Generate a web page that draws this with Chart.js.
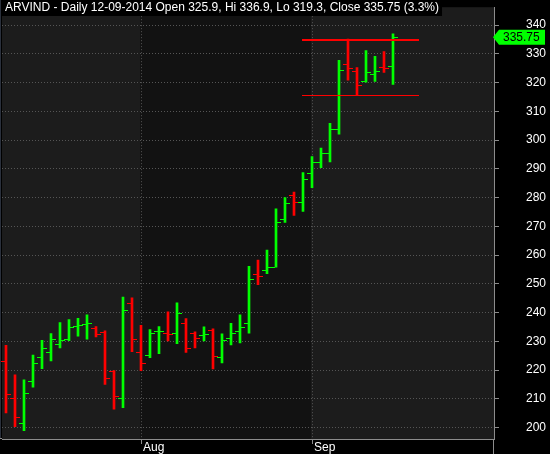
<!DOCTYPE html>
<html>
<head>
<meta charset="utf-8">
<script src="https://cdn.jsdelivr.net/npm/chart.js@4.4.1/dist/chart.umd.min.js"></script>
<style>
  html, body { margin: 0; padding: 0; background: #000; }
</style>
</head>
<body>
<canvas id="arvindChart" width="550" height="454"></canvas>
<script>
// ARVIND daily bars, 10 Jul - 12 Sep 2014
const dates = [
  '2014-07-10', '2014-07-11', '2014-07-14', '2014-07-15', '2014-07-16', '2014-07-17', '2014-07-18',
  '2014-07-21', '2014-07-22', '2014-07-23', '2014-07-24', '2014-07-25', '2014-07-28', '2014-07-30',
  '2014-07-31',
  '2014-08-01', '2014-08-04', '2014-08-05', '2014-08-06', '2014-08-07', '2014-08-08', '2014-08-11',
  '2014-08-12', '2014-08-13', '2014-08-14', '2014-08-18', '2014-08-19', '2014-08-20', '2014-08-21',
  '2014-08-22', '2014-08-25', '2014-08-26', '2014-08-27', '2014-08-28',
  '2014-09-01', '2014-09-02', '2014-09-03', '2014-09-04', '2014-09-05', '2014-09-08', '2014-09-09',
  '2014-09-10', '2014-09-11', '2014-09-12'
];
const opens = [
  223.1, 210.1, 201.7, 216.1, 224.4, 226.2, 229.2, 230.9, 235.4, 236.0, 234.7, 233.2, 219.7, 210.1, 243.2,
  226.1, 225.1, 233.5, 233.0, 233.0, 236.4, 233.0, 232.3, 234.0, 224.4, 231.2, 233.6, 236.4, 253.4, 254.8,
  255.8, 272.6, 280.8, 278.4,
  288.6, 292.4, 295.6, 304.0, 326.6, 324.0, 320.4, 322.8, 325.3, 325.9
];
const highs = [
  228.6, 218.3, 216.6, 225.2, 230.3, 232.7, 236.5, 237.5, 238.0, 239.2, 235.1, 233.6, 219.8, 245.4, 245.1,
  235.5, 234.1, 235.1, 240.2, 243.4, 237.9, 233.3, 235.0, 234.3, 232.6, 236.2, 239.2, 256.1, 258.2, 261.7,
  276.1, 280.0, 281.9, 288.7,
  294.2, 297.2, 305.8, 327.7, 335.1, 325.2, 331.1, 329.1, 330.8, 336.9
];
const lows = [
  205.1, 200.3, 198.9, 214.0, 220.5, 223.2, 227.7, 230.2, 231.8, 230.7, 231.5, 215.0, 206.4, 206.9, 226.4,
  219.8, 224.3, 225.7, 230.1, 229.2, 226.1, 227.7, 230.1, 220.4, 222.5, 228.7, 229.4, 232.8, 249.7, 253.5,
  255.8, 271.3, 273.8, 275.2,
  283.4, 290.4, 292.4, 302.0, 320.8, 315.6, 320.1, 320.4, 323.5, 319.3
];
const closes = [
  211.7, 203.5, 212.0, 222.3, 227.8, 230.9, 230.5, 235.0, 235.8, 236.4, 232.6, 217.2, 211.0, 240.8, 230.9,
  222.3, 233.0, 233.7, 232.6, 239.8, 227.8, 231.2, 232.6, 224.7, 230.5, 233.0, 235.0, 251.7, 252.7, 255.8,
  271.5, 278.0, 278.4, 286.6,
  292.4, 295.6, 304.0, 324.2, 325.2, 319.1, 323.5, 324.0, 325.1, 335.75
];

// month boundaries (bar index) and their axis labels
const monthStarts = [15, 34];
const monthLabels = ['Aug', 'Sep'];

// horizontal levels drawn over the last bars
const levelValues = [335.1, 315.6];
const levelWidths = [2, 1];
const levelStart = 32.9;
const levelEnd = 45.9;

const UP = '#00ff00';
const DOWN = '#ff0000';
const barColors = closes.map((c, i) => (c >= opens[i] ? UP : DOWN));
const last = closes.length - 1;
const pct = ((closes[last] - closes[last - 1]) / closes[last - 1] * 100).toFixed(1);
const titleText = 'ARVIND - Daily 12-09-2014 Open ' + opens[last] + ', Hi ' + highs[last] +
  ', Lo ' + lows[last] + ', Close ' + closes[last] + ' (' + pct + '%)';

Chart.defaults.font.family = '"Liberation Sans", Arial, sans-serif';
Chart.defaults.font.size = 12;

// background: black page, month shading inside the plot
const background = {
  id: 'background',
  beforeDraw(chart) {
    const { ctx, chartArea: a, scales: { x } } = chart;
    ctx.save();
    ctx.fillStyle = '#000';
    ctx.fillRect(0, 0, chart.width, chart.height);
    ctx.fillStyle = '#1c1c1c';
    ctx.fillRect(a.left, a.top, a.right - a.left, a.bottom - a.top);
    const x1 = Math.round(x.getPixelForValue(monthStarts[0])) - 1;
    const x2 = Math.round(x.getPixelForValue(monthStarts[1])) - 1;
    ctx.fillStyle = '#121212';
    ctx.fillRect(x1, a.top, x2 - x1, a.bottom - a.top);
    ctx.fillStyle = '#2a303c';
    ctx.fillRect(0, 0, 1, a.bottom);
    ctx.restore();
  }
};

// open / close ticks, level lines, title and last price tag
const overlay = {
  id: 'overlay',
  afterDatasetsDraw(chart) {
    const { ctx, scales: { x, y } } = chart;
    ctx.save();
    for (let i = 0; i < dates.length; i++) {
      const px = Math.round(x.getPixelForValue(i));
      ctx.fillStyle = barColors[i];
      ctx.fillRect(px - 5, Math.round(y.getPixelForValue(opens[i])), 4, 1);
      ctx.fillRect(px + 1, Math.round(y.getPixelForValue(closes[i])), 4, 1);
    }
    ctx.fillStyle = DOWN;
    levelValues.forEach((v, k) => {
      const x1 = Math.round(x.getPixelForValue(levelStart));
      const x2 = Math.round(x.getPixelForValue(levelEnd));
      ctx.fillRect(x1, Math.round(y.getPixelForValue(v)), x2 - x1, levelWidths[k]);
    });
    ctx.restore();
  },
  afterDraw(chart) {
    const { ctx, chartArea: a, scales: { y } } = chart;
    ctx.save();
    // axis line continues below the plot
    ctx.fillStyle = '#8c8c8c';
    ctx.fillRect(Math.round(a.right) - 1, a.bottom, 1, chart.height - a.bottom);
    ctx.fillRect(0, Math.round(a.bottom) - 1, a.left, 1);

    // title
    ctx.font = '12px "Liberation Sans", Arial, sans-serif';
    const tw = ctx.measureText(titleText).width;
    ctx.fillStyle = '#000';
    ctx.fillRect(2, 0, tw + 6, 16);
    ctx.fillStyle = '#fff';
    ctx.textBaseline = 'middle';
    ctx.textAlign = 'left';
    ctx.fillText(titleText, 5, 8);

    // last price tag
    const py = y.getPixelForValue(closes[last]);
    ctx.fillStyle = UP;
    ctx.beginPath();
    ctx.moveTo(493, py);
    ctx.lineTo(499, py - 7.5);
    ctx.lineTo(545, py - 7.5);
    ctx.lineTo(545, py + 7.5);
    ctx.lineTo(499, py + 7.5);
    ctx.closePath();
    ctx.fill();
    ctx.fillStyle = '#000';
    ctx.fillText(closes[last].toFixed(2), 503, py + 0.5);
    ctx.restore();
  }
};

const ctx = document.getElementById('arvindChart').getContext('2d');

new Chart(ctx, {
  type: 'bar',
  data: {
    datasets: [{
      label: 'ARVIND',
      data: dates.map((d, i) => ({ x: i, y: [lows[i], highs[i]] })),
      backgroundColor: barColors,
      borderWidth: 0,
      barThickness: 2,
      grouped: false
    }]
  },
  options: {
    responsive: false,
    animation: false,
    devicePixelRatio: 1,
    layout: { padding: { left: 2, right: 4, top: 0, bottom: 0 } },
    plugins: { legend: { display: false }, tooltip: { enabled: false } },
    scales: {
      x: {
        type: 'linear',
        offset: false,
        min: -4 / 9,
        max: -4 / 9 + 492 / 9,
        afterBuildTicks: s => { s.ticks = monthStarts.map(v => ({ value: v })); },
        afterFit: s => { s.height = 15; },
        ticks: {
          color: '#fff',
          align: 'start',
          labelOffset: 2,
          padding: -4,
          maxRotation: 0,
          autoSkip: false,
          callback: v => monthLabels[monthStarts.indexOf(v)]
        },
        grid: { offset: false, color: '#555', tickColor: '#8c8c8c', tickLength: 5 },
        border: { color: '#8c8c8c', dash: [1, 2] }
      },
      y: {
        position: 'right',
        min: 196.0,
        max: 346.2,
        afterFit: s => { s.width = 52; },
        ticks: {
          stepSize: 10,
          includeBounds: false,
          color: '#fff',
          crossAlign: 'far',
          padding: 0
        },
        grid: { color: '#555', tickColor: '#8c8c8c', tickLength: 5 },
        border: { color: '#8c8c8c', dash: [1, 2] }
      }
    }
  },
  plugins: [background, overlay]
});
</script>
</body>
</html>
